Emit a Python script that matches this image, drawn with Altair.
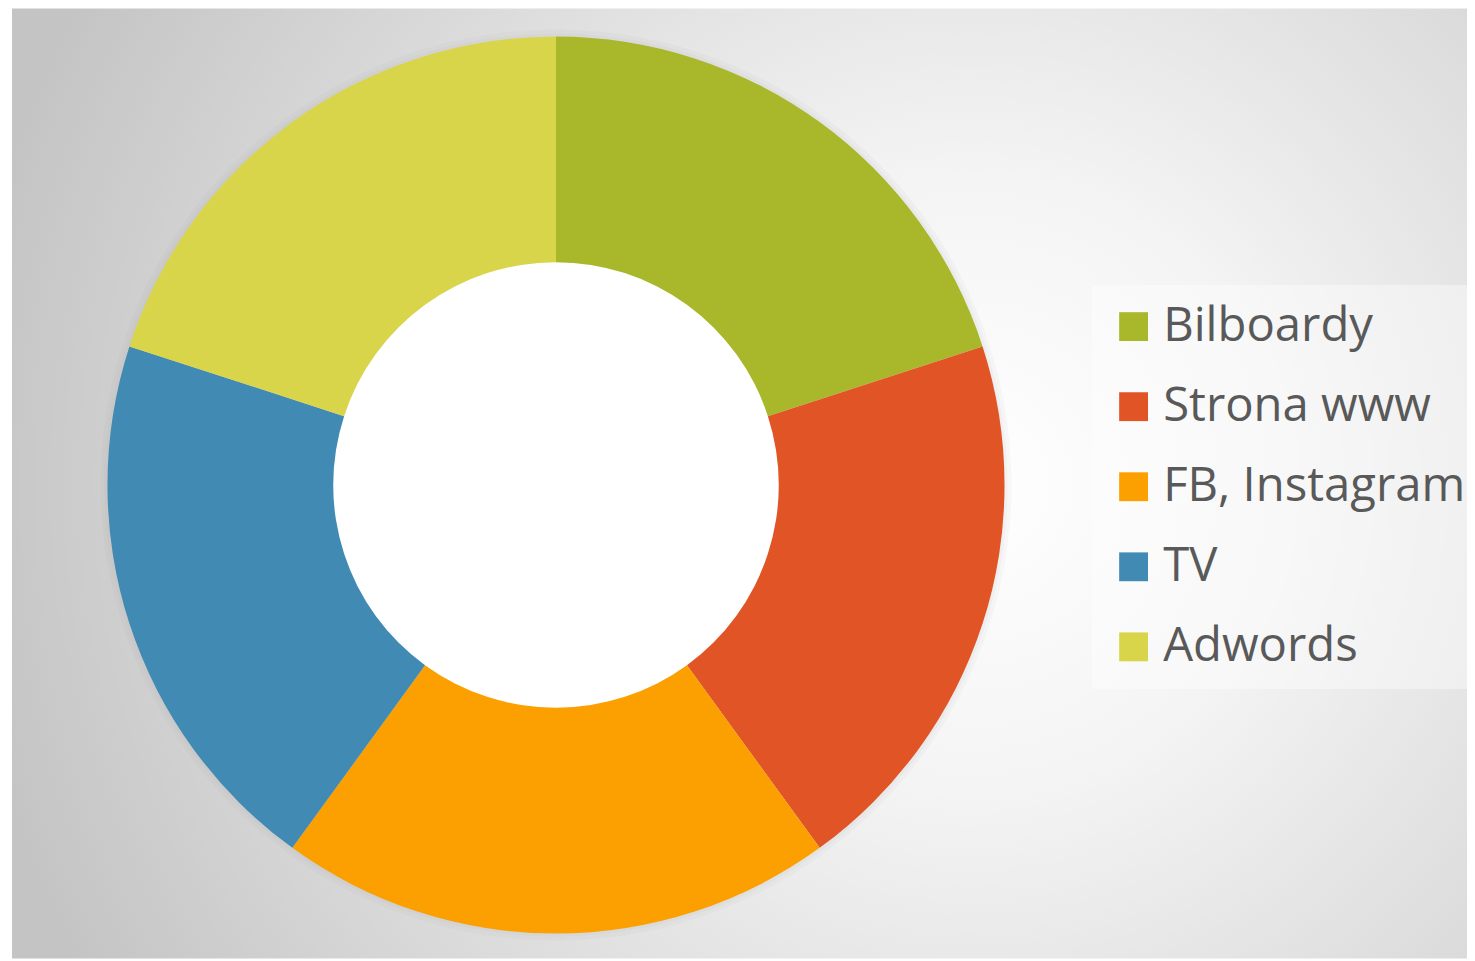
import altair as alt
import pandas as pd

categories = ["Bilboardy", "Strona www", "FB, Instagram", "TV", "Adwords"]
values = [1, 1, 1, 1, 1]
colors = ["#A8B82A", "#E05426", "#FC9F00", "#418AB3", "#D9D54A"]

df = pd.DataFrame({"kanal": categories, "wartosc": values, "ord": list(range(len(categories)))})
bg_df = pd.DataFrame({"a": [0]})

W, H = 1467, 953
CX, CY = 551, 477

bg = alt.Chart(bg_df).mark_rect(
    color=alt.Gradient(
        gradient="radial",
        stops=[alt.GradientStop(offset=0, color="#ffffff"),
               alt.GradientStop(offset=0.3, color="#f4f4f4"),
               alt.GradientStop(offset=1, color="#c4c4c4")],
        x1=0.66, y1=0.5, r1=0, x2=0.66, y2=0.5, r2=0.7,
    )
).encode(x=alt.value(4), x2=alt.value(W), y=alt.value(-2), y2=alt.value(H))

shadow1 = alt.Chart(bg_df).mark_arc(
    outerRadius=458, innerRadius=449, color="#9a9a9a", opacity=0.06
).encode(theta=alt.value(6.2832), x=alt.value(CX), y=alt.value(CY))
shadow2 = alt.Chart(bg_df).mark_arc(
    outerRadius=454, innerRadius=449, color="#9a9a9a", opacity=0.06
).encode(theta=alt.value(6.2832), x=alt.value(CX), y=alt.value(CY))

hole = alt.Chart(bg_df).mark_arc(
    outerRadius=225, innerRadius=0, color="#ffffff"
).encode(theta=alt.value(6.2832), x=alt.value(CX), y=alt.value(CY))

donut = alt.Chart(df).mark_arc(outerRadius=451, innerRadius=224).encode(
    theta=alt.Theta("wartosc:Q", stack=True),
    order=alt.Order("ord:Q"),
    x=alt.value(CX), y=alt.value(CY),
    color=alt.Color(
        "kanal:N",
        scale=alt.Scale(domain=categories, range=colors),
        sort=categories,
        legend=alt.Legend(
            title=None, orient="none", legendX=1090, legendY=276,
            symbolType="square", symbolSize=841, symbolStrokeWidth=0,
            labelFontSize=47.5, labelFont="Open Sans", labelColor="#595959",
            labelLimit=400, labelOffset=6, rowPadding=31.5, padding=18,
            fillColor="rgba(255,255,255,0.4)", symbolOpacity=1,
        ),
    ),
)

chart = alt.layer(bg, shadow1, shadow2, hole, donut).properties(
    width=W, height=H, padding=0, autosize=alt.AutoSizeParams(type="none")
).configure_view(stroke=None)

chart.save("out.html", embed_options={"renderer": "svg", "actions": False})
